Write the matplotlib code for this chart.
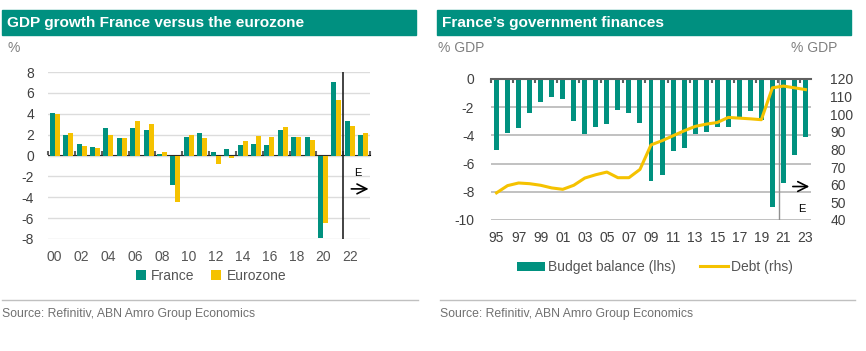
import numpy as np
import matplotlib.pyplot as plt
from matplotlib.patches import Rectangle
from matplotlib.lines import Line2D

# GDP growth, % y/y
gdp_years = list(range(2000, 2024))
france_gdp = [4.1, 2.0, 1.1, 0.8, 2.6, 1.7, 2.6, 2.4, 0.1, -2.8, 1.8, 2.2,
              0.3, 0.6, 1.0, 1.1, 1.0, 2.4, 1.8, 1.8, -7.9, 7.0, 3.3, 2.0]
eurozone_gdp = [4.0, 2.2, 0.9, 0.7, 2.0, 1.7, 3.3, 3.0, 0.3, -4.5, 2.0, 1.7,
                -0.8, -0.2, 1.4, 1.9, 1.8, 2.7, 1.8, 1.5, -6.5, 5.3, 2.8, 2.2]
gdp_tick_labels = ['00', '02', '04', '06', '08', '10', '12', '14', '16', '18', '20', '22']

# Government finances, % GDP
fin_years = list(range(1995, 2024))
budget_balance = [-5.0, -3.8, -3.5, -2.4, -1.6, -1.3, -1.4, -3.0, -3.9, -3.4,
                  -3.2, -2.2, -2.4, -3.1, -7.2, -6.8, -5.1, -4.9, -3.9, -3.75,
                  -3.4, -3.4, -2.85, -2.3, -2.9, -9.1, -7.4, -5.4, -4.1]
debt = [55.4, 59.5, 61.0, 60.6, 59.7, 58.2, 57.4, 59.7, 63.8, 65.7,
        67.2, 64.0, 64.0, 68.7, 82.6, 85.0, 87.8, 90.6, 93.1, 94.4,
        95.3, 98.2, 97.8, 97.4, 96.9, 115.0, 116.0, 115.0, 114.0]
fin_tick_labels = ['95', '97', '99', '01', '03', '05', '07', '09', '11', '13',
                   '15', '17', '19', '21', '23']

TEAL = '#00917f'
YELLOW = '#f5c200'
TXT = '#404040'
GREY = '#808080'
ARROW = dict(arrowstyle='->,head_length=0.7,head_width=0.35', color='black', lw=1.2)

plt.rcParams['font.family'] = ['Liberation Sans', 'DejaVu Sans']
plt.rcParams['axes.unicode_minus'] = False

W, H = 866, 351
fig = plt.figure(figsize=(W / 100, H / 100), dpi=100)


def box(x0, y0, x1, y1):
    """pixel box (top-left origin) -> figure rect"""
    return [x0 / W, 1 - y1 / H, (x1 - x0) / W, (y1 - y0) / H]


# title bars
for x0, x1, title in [(2, 416, 'GDP growth France versus the eurozone'),
                      (437, 851, 'France\u2019s government finances')]:
    fig.patches.append(Rectangle((x0 / W, 1 - 35 / H), (x1 - x0) / W, 25 / H,
                                 transform=fig.transFigure, color='#009080', zorder=0))
    fig.text((x0 + 5) / W, 1 - 23 / H, title, color='white', fontsize=11.1,
             fontweight='bold', va='center', ha='left')

fig.text(8 / W, 1 - 48 / H, '%', color=GREY, fontsize=10, va='center')
fig.text(438 / W, 1 - 48 / H, '% GDP', color=GREY, fontsize=10, va='center')
fig.text(837 / W, 1 - 48 / H, '% GDP', color=GREY, fontsize=10, va='center', ha='right')

# footer
for x0, x1 in [(2, 418), (440, 855)]:
    fig.add_artist(Line2D([x0 / W, x1 / W], [1 - 300 / H] * 2, color='#c0c0c0', lw=1))
    fig.text(x0 / W, 1 - 314 / H, 'Source: Refinitiv, ABN Amro Group Economics',
             color='#707070', fontsize=8.8, va='center', ha='left')

# ---- left chart
ax1 = fig.add_axes(box(48, 72, 370, 239))
x = np.array(gdp_years)
bw = 0.375
ax1.bar(x - bw / 2, france_gdp, bw, color=TEAL, label='France', zorder=3)
ax1.bar(x + bw / 2, eurozone_gdp, bw, color=YELLOW, label='Eurozone', zorder=3)
ax1.set_xlim(gdp_years[0] - 0.5, gdp_years[-1] + 0.5)
ax1.set_ylim(-8, 8)
ax1.set_yticks(range(-8, 9, 2))
ax1.grid(axis='y', color='#dcdcdc', lw=1, zorder=0)
ax1.set_xticks(gdp_years[::2])
ax1.set_xticklabels(gdp_tick_labels)
ax1.tick_params(axis='x', length=0, labelsize=10, labelcolor='#555555', pad=8)
ax1.tick_params(axis='y', length=0, labelsize=10, labelcolor=TXT, pad=10)
for s in ax1.spines.values():
    s.set_visible(False)
zero = ax1.secondary_xaxis(0.5)
zero.set_xticks(np.arange(gdp_years[0] - 0.5, gdp_years[-1] + 1, 2))
zero.set_xticklabels([])
zero.tick_params(length=3, width=1.5, color='#606060')
zero.spines['bottom'].set_color('#606060')
zero.spines['bottom'].set_linewidth(1.5)
ax1.axvline(2021.5, color='#222222', lw=1.2, zorder=4)
ax1.text(2022.6, -1.7, 'E', fontsize=8, ha='center', va='center', color='black')
ax1.annotate('', xy=(2023.6, -3.2), xytext=(2021.9, -3.2), annotation_clip=False,
             arrowprops=ARROW)
ax1.legend(loc='center', bbox_to_anchor=(211 / W, 1 - 276 / H),
           bbox_transform=fig.transFigure, ncol=2, frameon=False, fontsize=10,
           handlelength=0.7, handleheight=0.7, handletextpad=0.4, columnspacing=1.2,
           labelcolor='#555555')

# ---- right chart
ax2 = fig.add_axes(box(491, 79, 811, 220))
xf = np.array(fin_years)
ax2.bar(xf, budget_balance, 0.45, color=TEAL, label='Budget balance (lhs)', zorder=3)
ax2.set_xlim(fin_years[0] - 0.5, fin_years[-1] + 0.5)
ax2.set_ylim(-10, 0)
ax2.set_yticks(range(-10, 1, 2))
ax2.grid(axis='y', color='#bcbcbc', lw=1.3, zorder=0)
ax2.set_xticks(fin_years[::2])
ax2.set_xticklabels(fin_tick_labels)
ax2.set_xticks(np.arange(fin_years[0] - 0.5, fin_years[-1] + 1, 2), minor=True)
ax2.tick_params(axis='x', which='major', length=0, labelsize=10, labelcolor=TXT, pad=8)
ax2.tick_params(axis='x', which='minor', bottom=False, top=True, direction='in',
                length=3, width=1.5, color='#606060')
ax2.tick_params(axis='y', length=0, labelsize=10, labelcolor=TXT, pad=12)
for k, s in ax2.spines.items():
    s.set_visible(k == 'top')
ax2.spines['top'].set_color('#606060')
ax2.spines['top'].set_linewidth(1.5)
ax2.spines['top'].set_zorder(5)
ax2.axvline(2020.6, color='#909090', lw=1, zorder=4)

ax3 = ax2.twinx()
ax3.plot(xf, debt, color=YELLOW, lw=2.2, label='Debt (rhs)', zorder=5)
ax3.set_ylim(40, 120)
ax3.set_yticks(range(40, 121, 10))
ax3.tick_params(axis='y', length=0, labelsize=10, labelcolor=TXT, pad=14)
for s in ax3.spines.values():
    s.set_visible(False)
ax3.text(2022.65, 46.5, 'E', fontsize=8, ha='center', va='center', color='black')
ax3.annotate('', xy=(2023.6, 59), xytext=(2021.6, 59), annotation_clip=False,
             arrowprops=ARROW)

h1, l1 = ax2.get_legend_handles_labels()
h2, l2 = ax3.get_legend_handles_labels()
ax2.legend(h1 + h2, l1 + l2, loc='center', bbox_to_anchor=(655 / W, 1 - 267 / H),
           bbox_transform=fig.transFigure, ncol=2, frameon=False, fontsize=10,
           handlelength=2.0, handleheight=0.6, handletextpad=0.2, columnspacing=1.8,
           labelcolor='#555555')

fig.savefig('out.png', dpi=100)
